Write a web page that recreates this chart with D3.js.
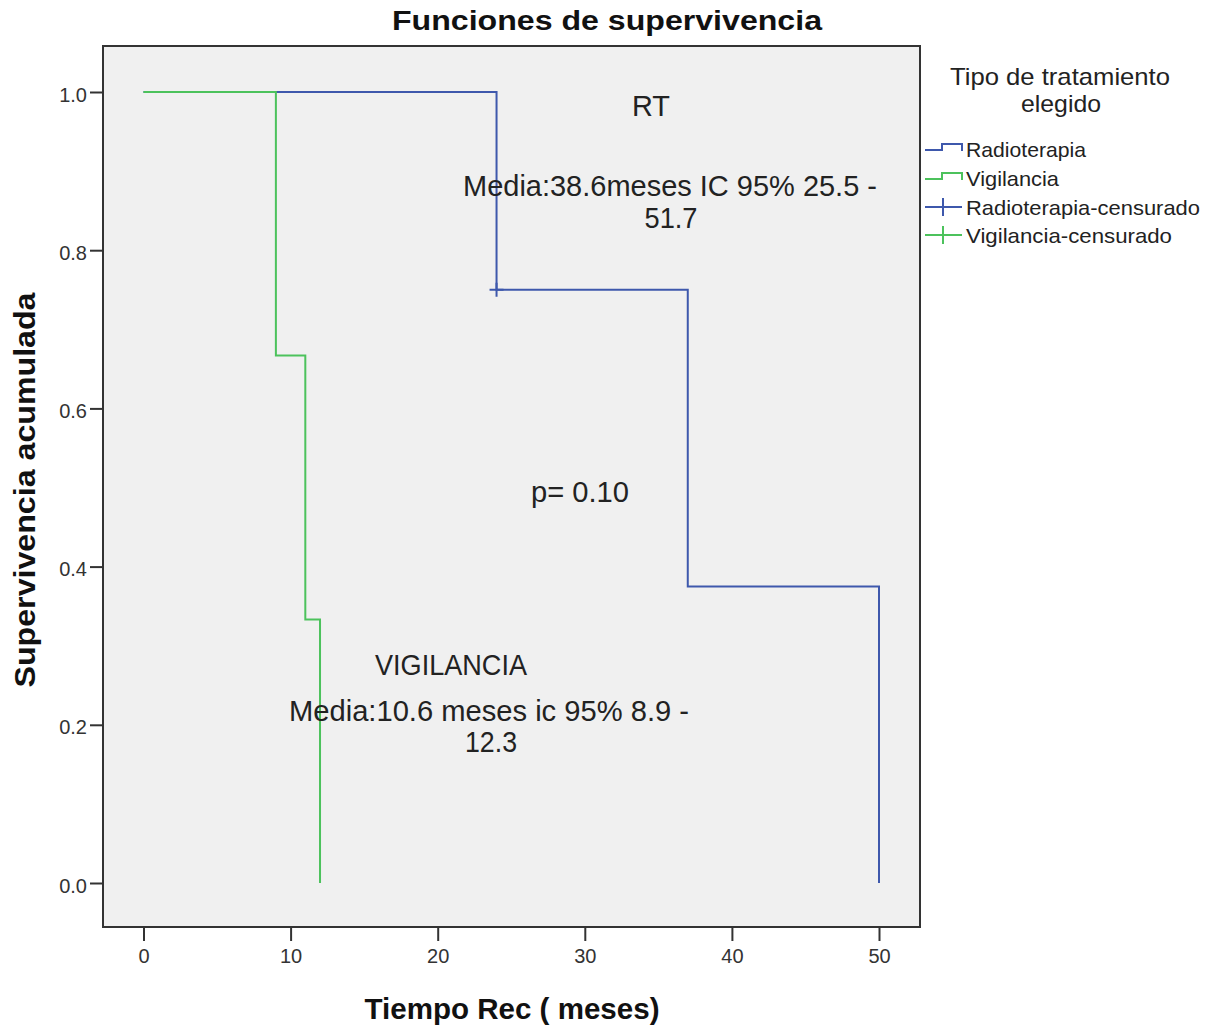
<!DOCTYPE html>
<html><head><meta charset="utf-8">
<script src="https://cdn.jsdelivr.net/npm/d3@7"></script>
<style>body{margin:0;background:#fff;} text{font-family:"Liberation Sans",Arial,sans-serif;}</style>
</head><body>
<svg id="c" width="1213" height="1028"></svg>
<script>
// Data
const rtTimes = [0, 24, 37, 50];
const rtSurv = [1.0, 0.75, 0.375, 0.0];
const vigTimes = [0, 9, 11, 12];
const vigSurv = [1.0, 0.667, 0.333, 0.0];
const rtCensorTimes = [24];
const rtCensorSurv = [0.75];
const xTicks = [0, 10, 20, 30, 40, 50];
const yTicks = [0.0, 0.2, 0.4, 0.6, 0.8, 1.0];
const legendLabels = ["Radioterapia", "Vigilancia", "Radioterapia-censurado", "Vigilancia-censurado"];

const blue = "#3e58ac", green = "#4cc25c";
const svg = d3.select("#c");
const frame = {l:103, t:46, r:920, b:927};
const x = d3.scaleLinear().domain([0, 50]).range([143.5, 879]);
const y = d3.scaleLinear().domain([0, 1]).range([883, 92]);

function txt(g, px, py, s, o) {
  const t = g.append("text").attr("x", px).attr("y", py).text(s)
    .attr("font-size", o.size).attr("fill", o.fill || "#222")
    .attr("text-anchor", o.anchor || "middle");
  if (o.bold) t.attr("font-weight", "bold");
  if (o.len) t.attr("textLength", o.len).attr("lengthAdjust", "spacingAndGlyphs");
  if (o.rot) t.attr("transform", `rotate(${o.rot},${px},${py})`);
  return t;
}

// frame
svg.append("rect").attr("x", frame.l).attr("y", frame.t)
  .attr("width", frame.r - frame.l).attr("height", frame.b - frame.t)
  .attr("fill", "#f0f0f0").attr("stroke", "#333").attr("stroke-width", 2);

// axes
const xa = svg.append("g").attr("transform", `translate(0,${frame.b})`)
  .call(d3.axisBottom(x).tickValues(xTicks).tickSize(14).tickPadding(8).tickFormat(d3.format("d")));
const ya = svg.append("g").attr("transform", `translate(${frame.l},0)`)
  .call(d3.axisLeft(y).tickValues(yTicks).tickSize(13).tickPadding(3).tickFormat(d3.format(".1f")));
[xa, ya].forEach(a => {
  a.select(".domain").remove();
  a.selectAll(".tick line").attr("stroke", "#333").attr("stroke-width", 2);
  a.selectAll(".tick text").attr("font-size", 20).attr("fill", "#333")
    .attr("font-family", "'Liberation Sans',Arial,sans-serif");
});
ya.selectAll(".tick text").attr("dy", "0.45em");

// curves
const line = d3.line().x(d => x(d[0])).y(d => y(d[1])).curve(d3.curveStepAfter);
const rt = rtTimes.map((t, i) => [t, rtSurv[i]]);
const vig = vigTimes.map((t, i) => [t, vigSurv[i]]);
svg.append("path").attr("d", line(rt)).attr("fill", "none").attr("stroke", blue).attr("stroke-width", 2);
svg.append("path").attr("d", line(vig)).attr("fill", "none").attr("stroke", green).attr("stroke-width", 2);
rtCensorTimes.forEach((t, i) => {
  const cx = x(t), cy = y(rtCensorSurv[i]);
  svg.append("path").attr("d", `M${cx-7},${cy}H${cx+7}M${cx},${cy-7}V${cy+7}`)
    .attr("stroke", blue).attr("stroke-width", 2);
});

// title & axis titles
txt(svg, 607, 30, "Funciones de supervivencia", {size: 28, bold: true, fill: "#111", len: 430});
txt(svg, 512, 1019, "Tiempo Rec ( meses)", {size: 30, bold: true, fill: "#111", len: 295});
txt(svg, 35, 490, "Supervivencia acumulada", {size: 30, bold: true, fill: "#111", len: 395, rot: -90});

// annotations
const ann = svg.append("g");
txt(ann, 651, 116, "RT", {size: 29, len: 38});
txt(ann, 670, 196, "Media:38.6meses IC 95% 25.5 -", {size: 29, len: 414});
txt(ann, 671, 228, "51.7", {size: 29, len: 53});
txt(ann, 580, 502, "p= 0.10", {size: 29, len: 98});
txt(ann, 451, 675, "VIGILANCIA", {size: 29, len: 152});
txt(ann, 489, 721, "Media:10.6 meses ic 95% 8.9 -", {size: 29, len: 400});
txt(ann, 491, 752, "12.3", {size: 29, len: 52});

// legend
const lg = svg.append("g");
txt(lg, 1060, 85, "Tipo de tratamiento", {size: 24, len: 220});
txt(lg, 1061, 112, "elegido", {size: 24, len: 80});
const ly = [149, 178, 207, 235];
const lcol = [blue, green, blue, green];
legendLabels.forEach((s, i) => {
  const yy = ly[i];
  if (i < 2) {
    lg.append("path").attr("d", `M925,${yy+1}H942V${yy-5}H962V${yy+2}`)
      .attr("fill", "none").attr("stroke", lcol[i]).attr("stroke-width", 2);
  } else {
    lg.append("path").attr("d", `M925,${yy}H962M943,${yy-9}V${yy+9}`)
      .attr("stroke", lcol[i]).attr("stroke-width", 2);
  }
  const w = [120, 93, 234, 206][i];
  txt(lg, 966, yy + 8, s, {size: 21, anchor: "start", len: w});
});
</script>
</body></html>
